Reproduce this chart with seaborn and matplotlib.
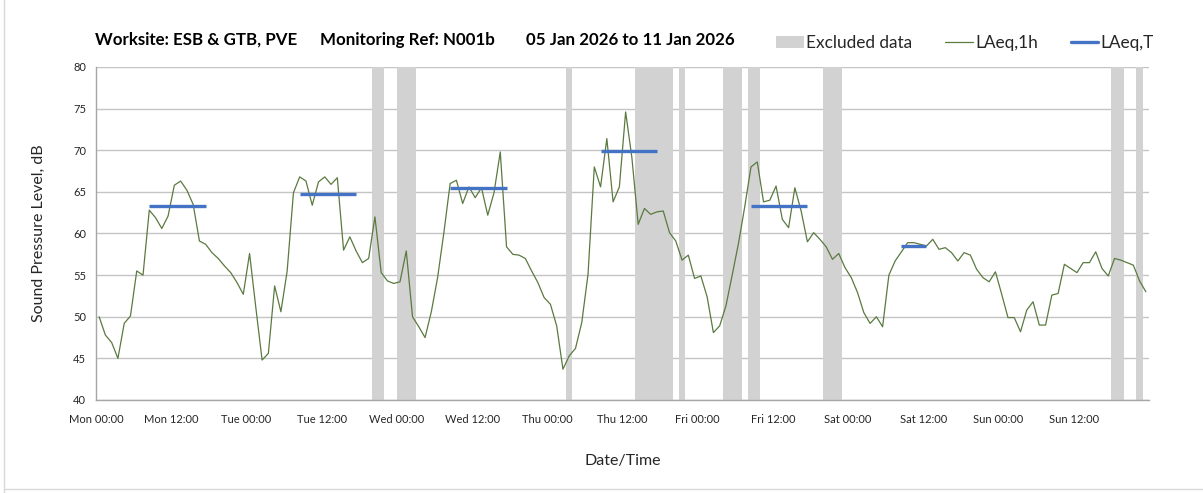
import numpy as np
import pandas as pd
import matplotlib
matplotlib.use("Agg")
import matplotlib.pyplot as plt
import seaborn as sns
from matplotlib.patches import Patch
from matplotlib.lines import Line2D

# ---------------- data ----------------
laeq_1h = [
    50.0, 47.8, 46.9, 45.0, 49.2, 50.1, 55.5, 55.0, 62.8, 61.9, 60.6, 62.1,
    65.8, 66.3, 65.2, 63.5, 59.1, 58.7, 57.7, 57.0, 56.1, 55.3, 54.1, 52.7,
    57.6, 51.1, 44.8, 45.6, 53.7, 50.6, 55.5, 64.9, 66.8, 66.3, 63.4, 66.2,
    66.8, 65.9, 66.7, 58.0, 59.6, 57.9, 56.5, 57.0, 62.0, 55.3, 54.3, 54.0,
    54.2, 57.9, 50.0, 48.8, 47.5, 50.6, 54.7, 60.1, 66.0, 66.4, 63.6, 65.6,
    64.3, 65.5, 62.2, 64.9, 69.8, 58.4, 57.5, 57.4, 57.0, 55.5, 54.1, 52.3,
    51.5, 48.9, 43.7, 45.3, 46.2, 49.3, 55.1, 68.0, 65.6, 71.4, 63.8, 65.6,
    74.6, 69.1, 61.1, 63.0, 62.3, 62.6, 62.7, 60.1, 59.1, 56.8, 57.4, 54.6,
    54.9, 52.4, 48.1, 48.9, 51.3, 55.0, 58.8, 63.2, 68.0, 68.6, 63.8, 64.0,
    65.7, 61.7, 60.7, 65.5, 62.7, 59.0, 60.1, 59.3, 58.4, 56.9, 57.6, 55.9,
    54.7, 52.9, 50.5, 49.2, 50.0, 48.8, 55.0, 56.7, 57.8, 58.9, 58.9, 58.7,
    58.5, 59.3, 58.1, 58.3, 57.7, 56.7, 57.7, 57.4, 55.7, 54.7, 54.2, 55.4,
    52.7, 49.9, 49.9, 48.2, 50.8, 51.8, 49.0, 49.0, 52.6, 52.8, 56.3, 55.8,
    55.3, 56.5, 56.5, 57.8, 55.8, 54.9, 57.0, 56.8, 56.5, 56.2, 54.3, 53.0,
]
hours = np.arange(len(laeq_1h)) + 0.5  # hours since Mon 00:00

excl_start = [44, 48, 75, 86, 93, 100, 104, 116, 162, 166]
excl_end = [46, 51, 76, 92, 94, 103, 106, 119, 164, 167]

laeqT_start = [8.5, 32.5, 56.5, 80.5, 104.5, 128.5]
laeqT_end = [17.5, 41.5, 65.5, 89.5, 113.5, 132.5]
laeqT_value = [63.3, 64.8, 65.5, 69.9, 63.3, 58.5]

days = ["Mon", "Tue", "Wed", "Thu", "Fri", "Sat", "Sun"]
times = ["00:00", "12:00"]
tick_labels = [f"{d} {t}" for d in days for t in times] + [""]

title_parts = ["Worksite: ESB & GTB, PVE", "Monitoring Ref: N001b", "05 Jan 2026 to 11 Jan 2026"]
title_x = [95, 320, 526]

# ---------------- style ----------------
sns.set_theme(style="white")
plt.rcParams["font.family"] = ["Lato", "DejaVu Sans"]

GREEN = "#5a7a40"
BLUE = "#4472c4"
GREY = "#d2d2d2"
TXT = "#262626"

W, H = 1203, 493
fig = plt.figure(figsize=(W / 100, H / 100), dpi=100)
ax = fig.add_axes([96 / W, 1 - 400 / H, (1149 - 96) / W, (400 - 67) / H])

df = pd.DataFrame({"Hour": hours, "LAeq,1h": laeq_1h})

# excluded periods
for s, e in zip(excl_start, excl_end):
    ax.axvspan(s, e, color=GREY, lw=0, zorder=1)

sns.lineplot(data=df, x="Hour", y="LAeq,1h", ax=ax, color=GREEN, lw=0.9, zorder=3)

ax.hlines(laeqT_value, laeqT_start, laeqT_end, color=BLUE, lw=2.4, zorder=4)

ax.set_xlim(0, 168)
ax.set_ylim(40, 80)
ax.set_yticks(np.arange(40, 81, 5))
ax.set_xticks(np.arange(0, 169, 12))
ax.set_xticklabels(tick_labels)
ax.set_xticks(np.arange(0, 169, 24), minor=True)

ax.grid(axis="y", which="major", color="#c4c4c4", lw=1.0, zorder=0)
ax.grid(axis="x", which="minor", color="#dcdcdc", lw=1.0, zorder=0)
ax.grid(axis="x", which="major", visible=False)
ax.set_axisbelow(True)

for side in ["top", "right"]:
    ax.spines[side].set_visible(False)
for side in ["left", "bottom"]:
    ax.spines[side].set_color("#a6a6a6")
    ax.spines[side].set_linewidth(1.0)

ax.tick_params(axis="both", which="major", direction="out", length=4, width=1,
               color="#a6a6a6", labelsize=8, labelcolor=TXT, pad=6)
ax.tick_params(axis="x", which="minor", length=0)
ax.tick_params(axis="y", pad=3)

ax.set_xlabel("Date/Time", fontsize=11.5, color=TXT, labelpad=21)
ax.set_ylabel("Sound Pressure Level, dB", fontsize=11.5, color=TXT, labelpad=20)

for txt, xp in zip(title_parts, title_x):
    fig.text(xp / W, 1 - 40 / H, txt, fontsize=12.2, fontweight="bold", color="black",
             ha="left", va="center")

handles = [
    Patch(facecolor=GREY, edgecolor="none", label="Excluded data"),
    Line2D([], [], color=GREEN, lw=0.9, label="LAeq,1h"),
    Line2D([], [], color=BLUE, lw=2.4, label="LAeq,T"),
]
leg = fig.legend(handles=handles, loc="center left", bbox_to_anchor=(776 / W, 1 - 43 / H),
                 ncol=3, frameon=False, fontsize=12.4, handlelength=1.6,
                 handletextpad=0.15, columnspacing=1.9, borderpad=0, borderaxespad=0)
for t in leg.get_texts():
    t.set_color(TXT)

# chart border
fig.add_artist(Line2D([4 / W, 4 / W], [0.0, 1.0], color="#d9d9d9", lw=1))
fig.add_artist(Line2D([4 / W, 1.0], [1 - 489 / H, 1 - 489 / H], color="#d9d9d9", lw=1))

fig.savefig("out.png", dpi=100)
